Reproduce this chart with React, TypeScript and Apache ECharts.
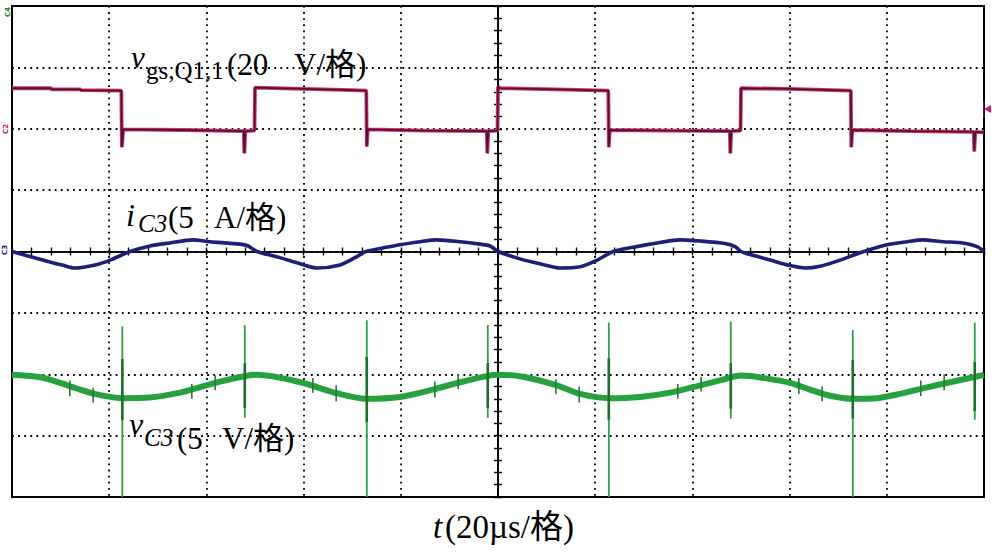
import React, { useEffect, useRef } from "react";
import * as echarts from "echarts";

// Horizontal axis: time in µs (20 µs per division), 0 at the screen centre.
// Vertical axis: screen divisions (8 divisions, centre = 0).
const timeMin = -100;
const timeMax = 100;
const timePerDiv = 20;
const divMin = -4;
const divMax = 4;

// v_gs,Q1,1 trace: [t (µs), level (div)]
const vgsTrace: [number, number][] = [
  [-100, 2.66], [-92, 2.66], [-91.8, 2.64], [-86, 2.64], [-85.8, 2.63], [-77.5, 2.62],
  [-77.4, 1.7], [-77.1, 1.99], [-65, 1.98], [-52.3, 1.96], [-52.2, 1.6], [-52.0, 1.96], [-50.1, 1.97],
  [-50.0, 2.67], [-40, 2.65], [-30, 2.63], [-27.1, 2.62],
  [-27.0, 1.71], [-26.8, 1.99], [-15, 1.97], [-2.3, 1.96], [-2.2, 1.6], [-2.0, 1.96], [-0.1, 1.97],
  [0, 2.69], [0.4, 2.66], [12, 2.64], [22.7, 2.62],
  [22.8, 1.7], [23.0, 1.98], [35, 1.97], [47.7, 1.96], [47.8, 1.6], [48.0, 1.96], [49.9, 1.97],
  [50, 2.66], [60, 2.65], [72.6, 2.62],
  [72.7, 1.7], [72.9, 1.98], [85, 1.96], [97.9, 1.95], [98.0, 1.63], [98.2, 1.95], [100, 1.94],
];

// i_C3 trace: [t (µs), level (div)]
const icTrace: [number, number][] = [
  [-100, 0], [-96.3, -0.08], [-92.2, -0.17], [-89.7, -0.22], [-87.0, -0.27], [-82.9, -0.22], [-79.8, -0.14],
  [-75.7, 0], [-71.6, 0.09], [-67.5, 0.14], [-62.8, 0.19], [-59.3, 0.16], [-53.1, 0.12], [-51.4, 0.09],
  [-49.6, 0], [-44.9, -0.1], [-40.7, -0.2], [-37.2, -0.27], [-32.5, -0.22], [-29.4, -0.1],
  [-27.2, 0], [-20.2, 0.11], [-16.0, 0.16], [-12.6, 0.19], [-7.8, 0.16], [-3.7, 0.12], [-1.6, 0.09],
  [0, 0], [4.5, -0.12], [8.6, -0.2], [12.8, -0.27], [16.9, -0.25], [20.4, -0.14],
  [23.7, 0], [27.8, 0.07], [31.3, 0.12], [37.4, 0.19], [41.6, 0.17], [46.7, 0.13], [48.8, 0.08],
  [50, 0], [51.9, -0.05], [56.0, -0.14], [60.1, -0.23], [63.2, -0.27], [66.3, -0.24], [70.4, -0.14],
  [74.5, -0.02], [80.0, 0.11], [84.2, 0.16], [87.4, 0.19], [91.6, 0.16], [95.7, 0.14], [98.6, 0.08], [100, 0],
];

// v_C3 trace: [t (µs), level (div)]
const vcTrace: [number, number][] = [
  [-100, -2.01], [-94.2, -2.05], [-90.1, -2.14], [-86.0, -2.25], [-81.9, -2.34], [-77.2, -2.39],
  [-71.6, -2.38], [-65.4, -2.3], [-61.3, -2.21], [-57.2, -2.12], [-51.4, -2.02], [-49.6, -2.01],
  [-40.7, -2.13], [-33.1, -2.31], [-27.0, -2.4], [-20.2, -2.37], [-13.4, -2.25], [-7.8, -2.13],
  [-2.3, -2.03], [0, -2.01], [5.1, -2.04], [12.1, -2.18], [16.9, -2.32], [23.0, -2.39], [29.2, -2.37],
  [35.4, -2.3], [41.6, -2.18], [45.7, -2.1], [50, -2.02], [51.9, -2.03], [56.0, -2.08], [60.1, -2.14],
  [64.2, -2.25], [68.3, -2.35], [73.0, -2.4], [78.0, -2.39], [82.7, -2.32], [87.4, -2.23], [93.0, -2.13],
  [97.7, -2.05], [100, -2.01],
];

// Switching spikes on v_C3: [t (µs), top (div), bottom (div)]
const vcBigSpikes: [number, number, number][] = [
  [-77.3, -1.22, -4.0], [-27.0, -1.12, -4.0], [22.8, -1.16, -4.0], [73.0, -1.28, -4.0],
];
const vcMidSpikes: [number, number, number][] = [
  [-52.1, -1.2, -2.71], [-2.1, -1.2, -2.71], [47.9, -1.14, -2.72], [98.1, -1.16, -2.74],
];
const vcSpikeCores: [number, number, number][] = [
  [-77.3, -1.75, -2.75], [-27.0, -1.72, -2.78], [22.8, -1.74, -2.74], [73.0, -1.77, -2.72],
  [-52.1, -1.82, -2.55], [-2.1, -1.82, -2.55], [47.9, -1.82, -2.56], [98.1, -1.8, -2.6],
];
const vcSmallSpikes: [number, number, number][] = [
  [-88.1, -2.1, -2.36], [-83.3, -2.22, -2.46], [-63.0, -2.16, -2.4], [-58.2, -2.02, -2.26],
  [-38.1, -2.06, -2.3], [-33.3, -2.18, -2.44], [-13.0, -2.12, -2.38], [-8.2, -2.0, -2.24],
  [11.9, -2.08, -2.32], [16.7, -2.2, -2.46], [37.0, -2.16, -2.4], [41.8, -2.04, -2.28],
  [61.9, -2.06, -2.32], [66.7, -2.2, -2.44], [87.0, -2.1, -2.36], [91.8, -2.0, -2.26],
];

const SERIF = '"Liberation Serif", "Times New Roman", "Noto Sans CJK SC", serif';

function spikeSeries(name: string, data: [number, number, number][], color: string, width: number, z: number) {
  return {
    name,
    type: "custom",
    xAxisIndex: 0,
    yAxisIndex: 0,
    silent: true,
    z,
    data,
    encode: { x: 0, y: [1, 2] },
    renderItem: (_params: any, api: any) => {
      const t = api.value(0);
      const p1 = api.coord([t, api.value(1)]);
      const p2 = api.coord([t, api.value(2)]);
      return {
        type: "line",
        shape: { x1: p1[0], y1: p1[1], x2: p2[0], y2: p2[1] },
        style: { stroke: color, lineWidth: width },
      };
    },
  };
}

function timeAxis(inside: boolean, withGrid: boolean) {
  return {
    type: "value",
    min: timeMin,
    max: timeMax,
    interval: timePerDiv,
    position: "bottom",
    axisLine: { show: true, onZero: true, onZeroAxisIndex: 0, lineStyle: { color: "#000", width: 1.6 } },
    axisTick: { show: true, inside, length: 4, lineStyle: { color: "#000", width: 1.4 } },
    minorTick: { show: true, splitNumber: 5, length: 4, lineStyle: { color: "#000", width: 1.4 } },
    axisLabel: { show: false },
    splitLine: { show: withGrid, lineStyle: { color: "#000", width: 1.8, type: [1.8, 4.3] } },
    minorSplitLine: { show: false },
  };
}

function divAxis(inside: boolean, withGrid: boolean) {
  return {
    type: "value",
    min: divMin,
    max: divMax,
    interval: 1,
    position: "left",
    axisLine: { show: true, onZero: true, onZeroAxisIndex: 0, lineStyle: { color: "#000", width: 1.6 } },
    axisTick: { show: true, inside, length: 4, lineStyle: { color: "#000", width: 1.4 } },
    minorTick: { show: true, splitNumber: 5, length: 4, lineStyle: { color: "#000", width: 1.4 } },
    axisLabel: { show: false },
    splitLine: { show: withGrid, lineStyle: { color: "#000", width: 1.8, type: [1.8, 4.3] } },
    minorSplitLine: { show: false },
  };
}

function txt(text: string, x: number, y: number, size: number, italic = false, fill = "#000") {
  return {
    type: "text",
    x,
    y,
    silent: true,
    z: 100,
    style: {
      text,
      fontSize: size,
      fontFamily: SERIF,
      fontStyle: italic ? "italic" : "normal",
      fill,
      align: "left",
      verticalAlign: "middle",
    },
  };
}

function tiny(text: string, x: number, y: number, fill: string) {
  return {
    type: "text",
    x,
    y,
    rotation: Math.PI / 2,
    silent: true,
    z: 100,
    style: { text, fontSize: 7, fontFamily: "DejaVu Sans", fontWeight: "bold", fill, align: "center", verticalAlign: "middle" },
  };
}

export default function App() {
  const ref = useRef<HTMLDivElement>(null);

  useEffect(() => {
    if (!ref.current) return;
    const chart = echarts.init(ref.current, undefined, { renderer: "svg" });
    const option: any = {
      animation: false,
      backgroundColor: "#ffffff",
      grid: {
        left: 12,
        top: 6,
        width: 972,
        height: 491,
        show: true,
        borderColor: "#000",
        borderWidth: 2,
        backgroundColor: "transparent",
        containLabel: false,
      },
      xAxis: [timeAxis(false, true), timeAxis(true, false)],
      yAxis: [divAxis(false, true), divAxis(true, false)],
      series: [
        {
          name: "vC3",
          type: "line",
          data: vcTrace,
          smooth: 0.3,
          showSymbol: false,
          symbol: "none",
          silent: true,
          z: 3,
          lineStyle: { color: "#27a13e", width: 6 },
        },
        spikeSeries("vC3 spikes big", vcBigSpikes, "#2f9f45", 1.8, 4),
        spikeSeries("vC3 spikes mid", vcMidSpikes, "#2f9f45", 1.8, 4),
        spikeSeries("vC3 spike cores", vcSpikeCores, "#1c6f2c", 2.6, 5),
        spikeSeries("vC3 spikes small", vcSmallSpikes, "#1f7d33", 1.6, 5),
        {
          name: "iC3",
          type: "line",
          data: icTrace,
          smooth: 0.25,
          showSymbol: false,
          symbol: "none",
          silent: true,
          z: 6,
          lineStyle: { color: "#1c2079", width: 3.6 },
        },
        {
          name: "vgs glow",
          type: "line",
          data: vgsTrace,
          showSymbol: false,
          symbol: "none",
          silent: true,
          z: 7,
          lineStyle: { color: "#cf3470", width: 3.8 },
        },
        {
          name: "vgs",
          type: "line",
          data: vgsTrace,
          showSymbol: false,
          symbol: "none",
          silent: true,
          z: 8,
          lineStyle: { color: "#561034", width: 1.8 },
        },
      ],
      graphic: [
        // v_gs,Q1,1 (20 V/格)
        txt("v", 131, 57, 31, true),
        txt("gs,Q1,1", 146, 70, 25),
        txt("(20", 227, 64, 31),
        txt("V/格)", 294, 64, 31),
        // i_C3 (5 A/格)
        txt("i", 126, 215, 32, true),
        txt("C3", 138, 223, 25, true),
        txt("(5", 168, 217, 31),
        txt("A/格)", 214, 217, 31),
        // v_C3 (5 V/格)
        txt("v", 129, 424, 32, true),
        txt("C3", 144, 437, 25, true),
        txt("(5", 177, 438, 31),
        txt("V/格)", 222, 438, 31),
        // t (20µs/格)
        txt("t", 433, 527, 33, true),
        txt("(20µs/格)", 445, 527, 33),
        // channel markers
        tiny("C4", 8, 12, "#1c8a34"),
        tiny("C2", 6, 129, "#c0206a"),
        tiny("C3", 5, 250, "#1c2079"),
        {
          type: "polygon",
          silent: true,
          z: 100,
          shape: { points: [[984, 109], [991, 105], [991, 113]] },
          style: { fill: "#c0206a" },
        },
        {
          type: "rect",
          silent: true,
          z: 100,
          shape: { x: 983, y: 101, width: 1.5, height: 17 },
          style: { fill: "#5e1239" },
        },
      ],
    };
    chart.setOption(option);
    return () => chart.dispose();
  }, []);

  return (
    <div
      ref={ref}
      style={{ position: "fixed", left: 0, top: 0, width: 992, height: 552, background: "#fff" }}
    />
  );
}
